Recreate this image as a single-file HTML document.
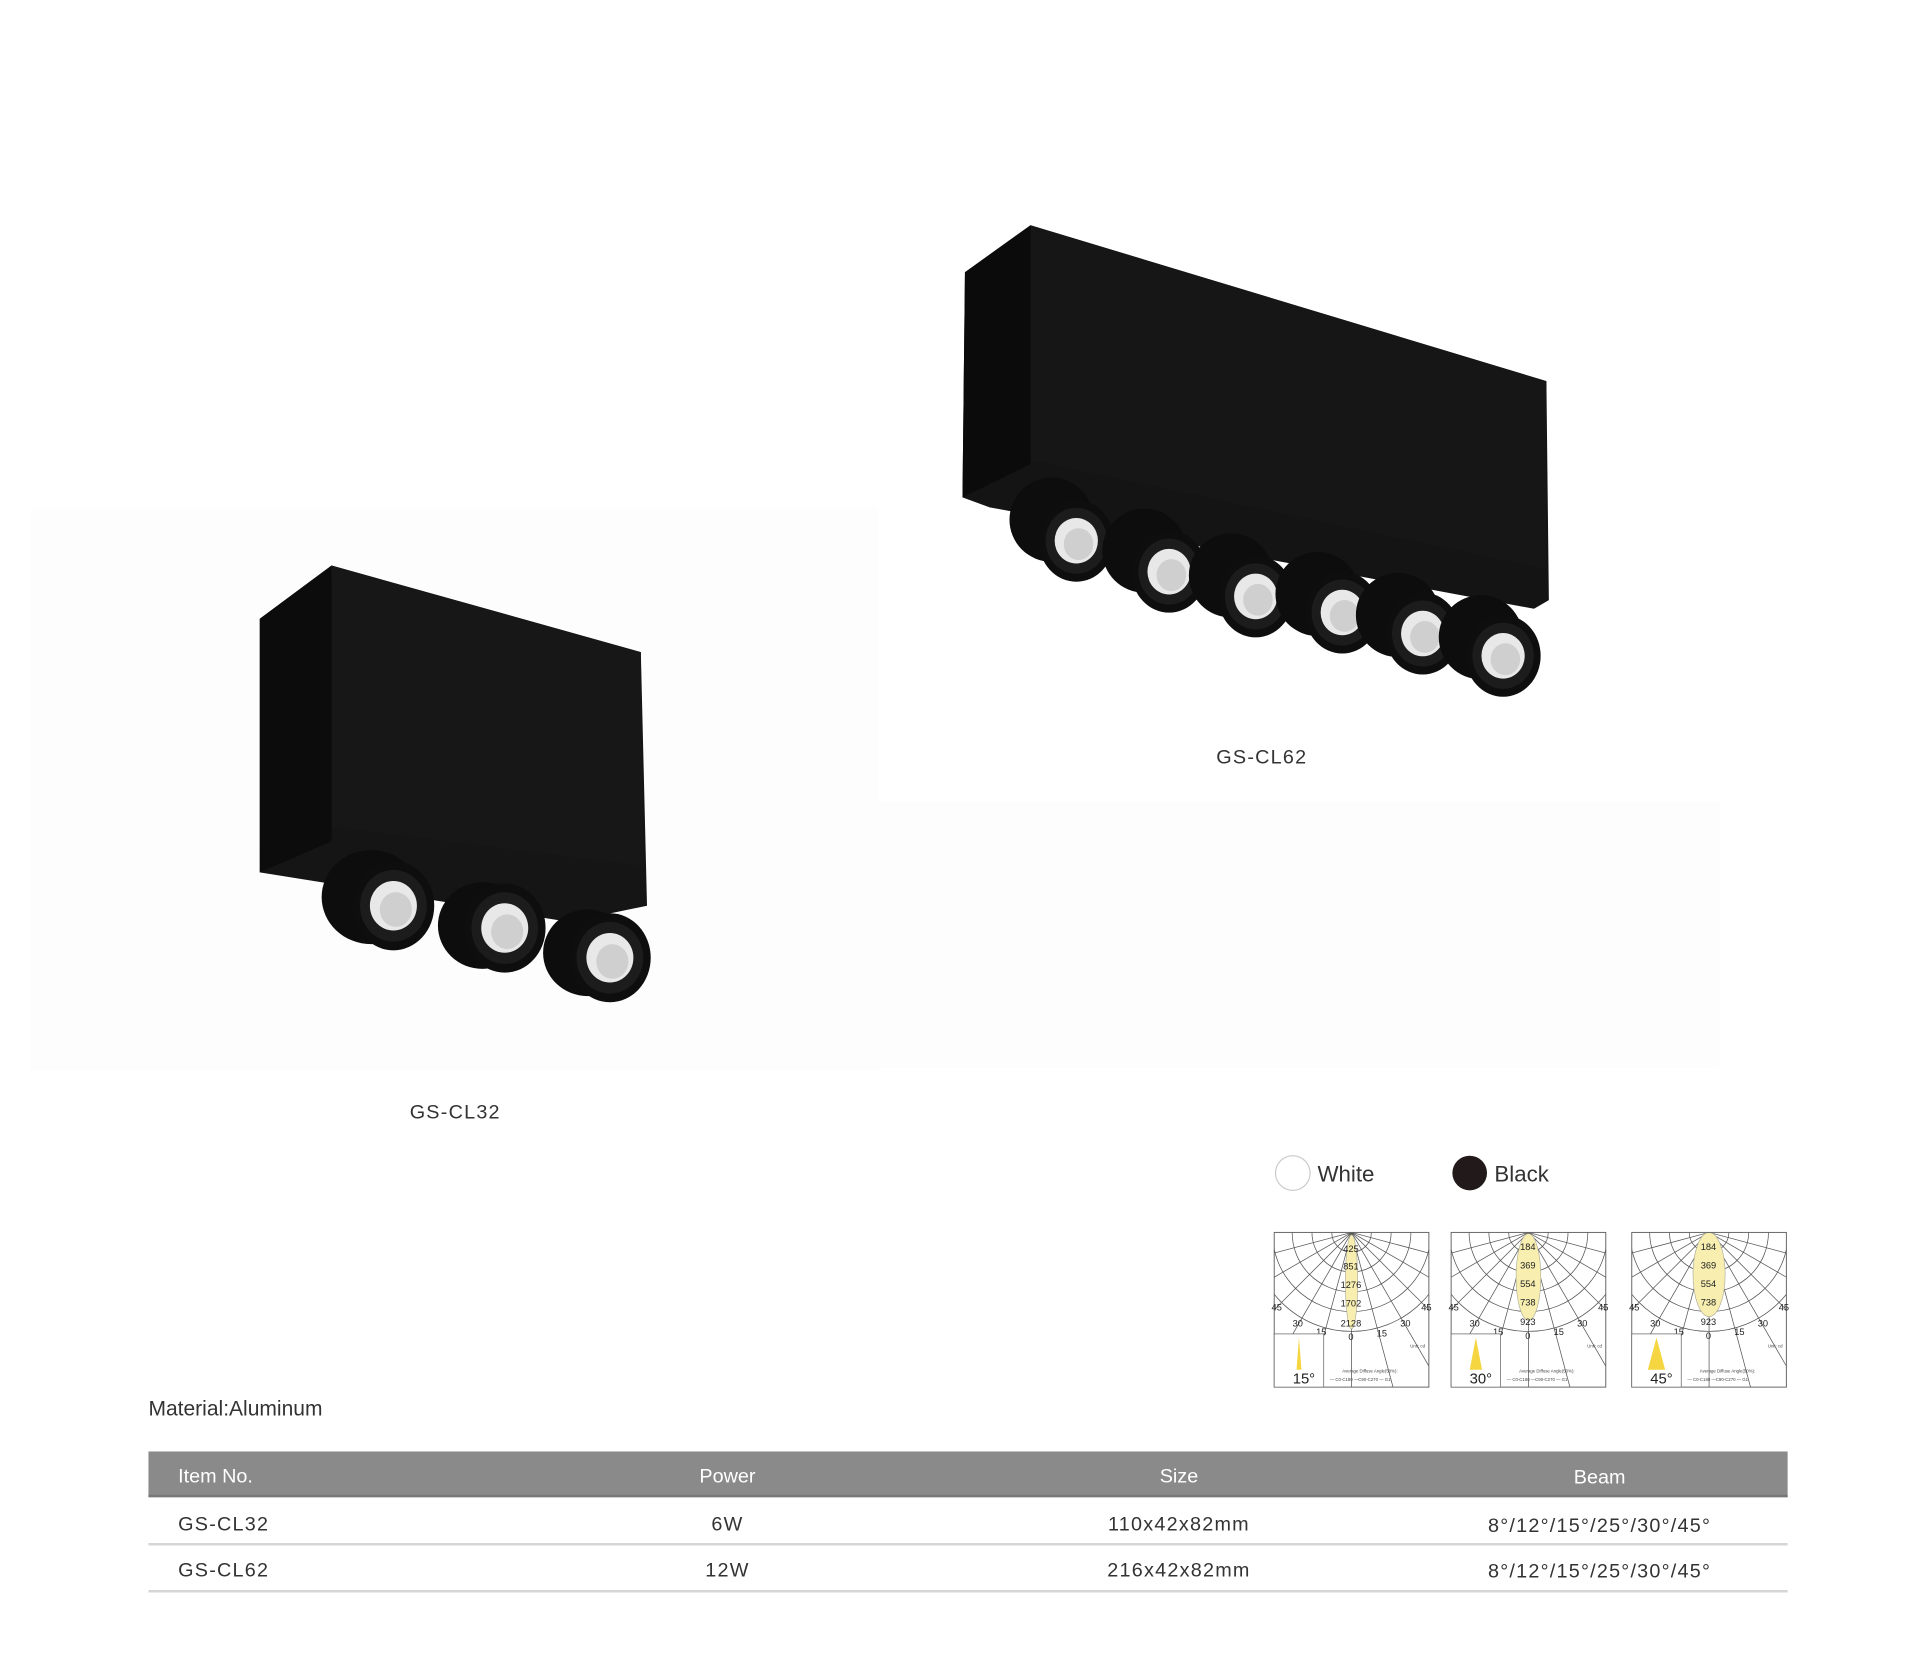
<!DOCTYPE html>
<html><head><meta charset="utf-8"><style>
html,body{margin:0;padding:0;background:#fff;}
svg{display:block}
text{font-family:"Liberation Sans","DejaVu Sans",sans-serif;}
</style></head><body>
<svg width="1920" height="1668" viewBox="0 0 1552 1348" preserveAspectRatio="none" xmlns="http://www.w3.org/2000/svg">
<defs>
<g id="lens">
  <ellipse cx="0" cy="0" rx="33" ry="36" fill="#0e0e0e"/>
  <ellipse cx="0" cy="0" rx="27" ry="29" fill="#1c1c1c"/>
  <ellipse cx="0" cy="0" rx="19" ry="20" fill="#e8e8e8"/>
  <ellipse cx="2" cy="3" rx="13" ry="14" fill="#cfcfcf"/>
</g>
<g id="grid" fill="none" stroke="#555" stroke-width="0.6">
  <circle cx="62.5" cy="0" r="16"/><circle cx="62.5" cy="0" r="32"/><circle cx="62.5" cy="0" r="48"/><circle cx="62.5" cy="0" r="64"/><circle cx="62.5" cy="0" r="80"/>
  <line x1="62.5" y1="0" x2="62.5" y2="140"/>
  <line x1="62.5" y1="0" x2="98.7" y2="135"/><line x1="62.5" y1="0" x2="26.3" y2="135"/>
  <line x1="62.5" y1="0" x2="132.5" y2="121"/><line x1="62.5" y1="0" x2="-7.5" y2="121"/>
  <line x1="62.5" y1="0" x2="161.5" y2="99"/><line x1="62.5" y1="0" x2="-36.5" y2="99"/>
  <line x1="62.5" y1="0" x2="183.5" y2="70"/><line x1="62.5" y1="0" x2="-58.5" y2="70"/>
  <line x1="62.5" y1="0" x2="197.5" y2="36"/><line x1="62.5" y1="0" x2="-72.5" y2="36"/>
</g>
<clipPath id="cc"><rect x="0" y="0" width="125" height="125"/></clipPath>
</defs>

<rect x="25" y="410" width="685" height="455" fill="#fdfdfd"/>
<rect x="710" y="648" width="680" height="215" fill="#fdfdfd"/>

<!-- CL32 -->
<polygon points="210,500 268,457 518,527 523,732 460,745 210,705" fill="#151515"/>
<polygon points="210,500 268,457 268,680 210,705" fill="#0c0c0c"/>
<polygon points="268,457 518,527 520,700 268,668" fill="#171717"/>
<ellipse cx="300" cy="725" rx="40" ry="38" fill="#0d0d0d"/>
<use href="#lens" transform="translate(318,732)"/>
<ellipse cx="390" cy="748" rx="36" ry="35" fill="#0d0d0d"/>
<use href="#lens" transform="translate(408,750)"/>
<ellipse cx="475" cy="770" rx="36" ry="35" fill="#0d0d0d"/>
<use href="#lens" transform="translate(493,774)"/>

<!-- CL62 -->
<polygon points="780,220 833,182 1250,308 1252,485 1240,492 800,410 778,402" fill="#141414"/>
<polygon points="780,220 833,182 833,375 778,402" fill="#0b0b0b"/>
<polygon points="833,182 1250,308 1250,460 833,372" fill="#161616"/>
<g>
<ellipse cx="850" cy="420" rx="34" ry="34" fill="#0d0d0d"/><use href="#lens" transform="translate(870,437) scale(0.92)"/>
<ellipse cx="925" cy="445" rx="34" ry="34" fill="#0d0d0d"/><use href="#lens" transform="translate(945,462) scale(0.92)"/>
<ellipse cx="995" cy="465" rx="34" ry="34" fill="#0d0d0d"/><use href="#lens" transform="translate(1015,482) scale(0.92)"/>
<ellipse cx="1065" cy="480" rx="34" ry="34" fill="#0d0d0d"/><use href="#lens" transform="translate(1085,495) scale(0.92)"/>
<ellipse cx="1130" cy="497" rx="34" ry="34" fill="#0d0d0d"/><use href="#lens" transform="translate(1150,512) scale(0.92)"/>
<ellipse cx="1197" cy="515" rx="34" ry="34" fill="#0d0d0d"/><use href="#lens" transform="translate(1215,530) scale(0.92)"/>
</g>

<text x="368" y="904" font-size="16" fill="#333" text-anchor="middle" letter-spacing="1">GS-CL32</text>
<text x="1020" y="617" font-size="16" fill="#333" text-anchor="middle" letter-spacing="1">GS-CL62</text>

<!-- swatches -->
<circle cx="1045" cy="948" r="14" fill="#fff" stroke="#ccc" stroke-width="1"/>
<text x="1065" y="955" font-size="18" fill="#333">White</text>
<circle cx="1188" cy="948" r="14" fill="#221a1a"/>
<text x="1208" y="955" font-size="18" fill="#333">Black</text>

<!-- charts -->
<g transform="translate(1030,996)">
 <g clip-path="url(#cc)"><use href="#grid"/><ellipse cx="62.5" cy="40" rx="5" ry="38" fill="#f7eeb0" stroke="#aa9" stroke-width="0.5"/></g>
 <rect x="0" y="0" width="125" height="125" fill="none" stroke="#666" stroke-width="0.8"/>
 <g font-size="7.5" fill="#222" text-anchor="middle"><text x="62" y="16">425</text><text x="62" y="30">851</text><text x="62" y="45">1276</text><text x="62" y="60">1702</text><text x="62" y="76">2128</text><text x="62" y="87">0</text><text x="2" y="63">45</text><text x="19" y="76">30</text><text x="38" y="83">15</text><text x="87" y="84">15</text><text x="106" y="76">30</text><text x="123" y="63">45</text></g>
 <rect x="0" y="82" width="40" height="43" fill="#fff" stroke="#666" stroke-width="0.6"/>
 <polygon points="20,85 18,111 22,111" fill="#f5d640"/>
 <text x="24" y="122" font-size="12" fill="#222" text-anchor="middle">15°</text>
 <text x="110" y="93" font-size="3.5" fill="#444">Unit: cd</text><text x="55" y="113" font-size="3.5" fill="#444">Average Diffuse Angle(50%):</text><text x="45" y="120" font-size="3.5" fill="#444">— C0-C180  —C90-C270  — G1</text>
</g>
<g transform="translate(1173,996)">
 <g clip-path="url(#cc)"><use href="#grid"/><ellipse cx="62.5" cy="36" rx="10" ry="35" fill="#f7eeb0" stroke="#aa9" stroke-width="0.5"/></g>
 <rect x="0" y="0" width="125" height="125" fill="none" stroke="#666" stroke-width="0.8"/>
 <g font-size="7.5" fill="#222" text-anchor="middle"><text x="62" y="14">184</text><text x="62" y="29">369</text><text x="62" y="44">554</text><text x="62" y="59">738</text><text x="62" y="75">923</text><text x="62" y="86">0</text><text x="2" y="63">45</text><text x="19" y="76">30</text><text x="38" y="83">15</text><text x="87" y="83">15</text><text x="106" y="76">30</text><text x="123" y="63">45</text></g>
 <rect x="0" y="82" width="40" height="43" fill="#fff" stroke="#666" stroke-width="0.6"/>
 <polygon points="20,85 15,111 25,111" fill="#f5d640"/>
 <text x="24" y="122" font-size="12" fill="#222" text-anchor="middle">30°</text>
 <text x="110" y="93" font-size="3.5" fill="#444">Unit: cd</text><text x="55" y="113" font-size="3.5" fill="#444">Average Diffuse Angle(50%):</text><text x="45" y="120" font-size="3.5" fill="#444">— C0-C180  —C90-C270  — G1</text>
</g>
<g transform="translate(1319,996)">
 <g clip-path="url(#cc)"><use href="#grid"/><ellipse cx="62.5" cy="34" rx="13" ry="34" fill="#f7eeb0" stroke="#aa9" stroke-width="0.5"/></g>
 <rect x="0" y="0" width="125" height="125" fill="none" stroke="#666" stroke-width="0.8"/>
 <g font-size="7.5" fill="#222" text-anchor="middle"><text x="62" y="14">184</text><text x="62" y="29">369</text><text x="62" y="44">554</text><text x="62" y="59">738</text><text x="62" y="75">923</text><text x="62" y="86">0</text><text x="2" y="63">45</text><text x="19" y="76">30</text><text x="38" y="83">15</text><text x="87" y="83">15</text><text x="106" y="76">30</text><text x="123" y="63">45</text></g>
 <rect x="0" y="82" width="40" height="43" fill="#fff" stroke="#666" stroke-width="0.6"/>
 <polygon points="20,85 13,111 27,111" fill="#f5d640"/>
 <text x="24" y="122" font-size="12" fill="#222" text-anchor="middle">45°</text>
 <text x="110" y="93" font-size="3.5" fill="#444">Unit: cd</text><text x="55" y="113" font-size="3.5" fill="#444">Average Diffuse Angle(50%):</text><text x="45" y="120" font-size="3.5" fill="#444">— C0-C180  —C90-C270  — G1</text>
</g>

<!-- material + table -->
<text x="120" y="1144" font-size="17" fill="#333">Material:Aluminum</text>
<rect x="120" y="1173" width="1325" height="37" fill="#8a8a8a"/>
<rect x="120" y="1208" width="1325" height="2" fill="#777"/>
<g font-size="16" fill="#fff"><text x="144" y="1198">Item No.</text><text x="588" y="1198" text-anchor="middle">Power</text><text x="953" y="1198" text-anchor="middle">Size</text><text x="1293" y="1199" text-anchor="middle">Beam</text></g>
<g font-size="16" fill="#333" letter-spacing="1">
<text x="144" y="1237">GS-CL32</text><text x="588" y="1237" text-anchor="middle">6W</text><text x="953" y="1237" text-anchor="middle">110x42x82mm</text><text x="1293" y="1238" text-anchor="middle">8°/12°/15°/25°/30°/45°</text>
<text x="144" y="1274">GS-CL62</text><text x="588" y="1274" text-anchor="middle">12W</text><text x="953" y="1274" text-anchor="middle">216x42x82mm</text><text x="1293" y="1275" text-anchor="middle">8°/12°/15°/25°/30°/45°</text>
</g>
<rect x="120" y="1247" width="1325" height="2" fill="#d5d5d5"/>
<rect x="120" y="1285" width="1325" height="2" fill="#d5d5d5"/>
</svg>
</body></html>
